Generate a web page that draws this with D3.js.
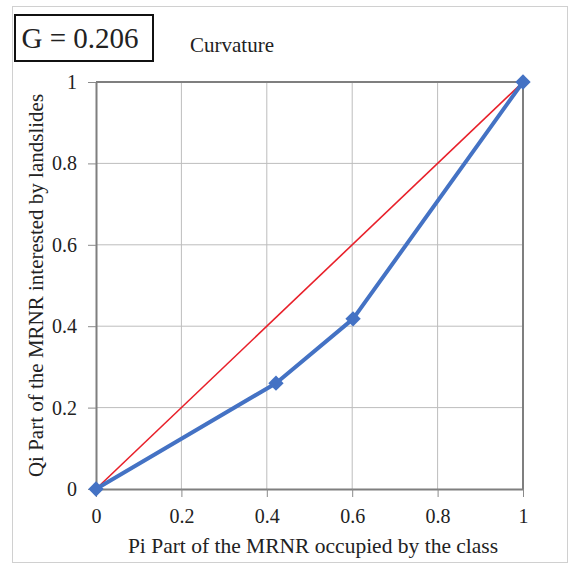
<!DOCTYPE html>
<html>
<head>
<meta charset="utf-8">
<script src="https://cdn.jsdelivr.net/npm/d3@7"></script>
<style>
  html, body { margin: 0; padding: 0; background: #fff; }
  svg text { font-family: "Liberation Serif", "Times New Roman", serif; fill: #222; }
</style>
</head>
<body>
<svg id="chart" width="570" height="566"></svg>
<script>
// Lorenz-type curve for the curvature factor
const pi = [0, 0.4215, 0.602, 1];
const qi = [0, 0.26, 0.418, 1];
const equality = [0, 1];
const tickValues = [0, 0.2, 0.4, 0.6, 0.8, 1];
const giniLabel = "G = 0.206";
const factorName = "Curvature";
const xTitle = "Pi Part of the MRNR occupied by the class";
const yTitle = "Qi Part of the MRNR interested by landslides";

const svg = d3.select("#chart");
const m = { left: 96, right: 523, top: 82, bottom: 489 };
const serif = '"Liberation Serif", "Times New Roman", serif';

const x = d3.scaleLinear().domain([0, 1]).range([m.left, m.right]);
const y = d3.scaleLinear().domain([0, 1]).range([m.bottom, m.top]);

// outer frame
svg.append("rect").attr("x", 12.5).attr("y", 6.5).attr("width", 555).attr("height", 556)
  .attr("fill", "none").attr("stroke", "#d0d0d0").attr("stroke-width", 1);

// gridlines
const grid = svg.append("g");
grid.selectAll(".gx").data(tickValues.slice(1, -1)).join("line")
  .attr("x1", d => x(d)).attr("x2", d => x(d)).attr("y1", m.top).attr("y2", m.bottom)
  .attr("stroke", "#bdbdbd").attr("stroke-width", 1);
grid.selectAll(".gy").data(tickValues.slice(1, -1)).join("line")
  .attr("y1", d => y(d)).attr("y2", d => y(d)).attr("x1", m.left).attr("x2", m.right)
  .attr("stroke", "#bdbdbd").attr("stroke-width", 1);

// axes
const fmt = d => d === 0 ? "0" : d === 1 ? "1" : d3.format(".1f")(d);
const xAxis = svg.append("g").attr("transform", `translate(0,${m.bottom})`)
  .call(d3.axisBottom(x).tickValues(tickValues).tickFormat(fmt).tickSize(8).tickSizeOuter(0));
const yAxis = svg.append("g").attr("transform", `translate(${m.left},0)`)
  .call(d3.axisLeft(y).tickValues(tickValues).tickFormat(fmt).tickSize(8).tickSizeOuter(0));
[xAxis, yAxis].forEach(a => {
  a.attr("font-family", null).attr("font-size", null);
  a.select(".domain").attr("stroke", "#7f7f7f").attr("stroke-width", 2);
  a.selectAll(".tick line").attr("stroke", "#8a8a8a").attr("stroke-width", 1);
  a.selectAll(".tick text").style("font-size", "20px").style("font-family", serif).attr("fill", "#222");
});
xAxis.selectAll(".tick text").attr("y", 34).attr("dy", 0);
yAxis.selectAll(".tick text").attr("x", -19);

// top and right frame of plot area
svg.append("line").attr("x1", m.left).attr("x2", m.right).attr("y1", m.top).attr("y2", m.top)
  .attr("stroke", "#7f7f7f").attr("stroke-width", 2);
svg.append("line").attr("x1", m.right).attr("x2", m.right).attr("y1", m.top).attr("y2", m.bottom)
  .attr("stroke", "#7f7f7f").attr("stroke-width", 2);

// equality line
svg.append("line")
  .attr("x1", x(equality[0])).attr("y1", y(equality[0]))
  .attr("x2", x(equality[1])).attr("y2", y(equality[1]))
  .attr("stroke", "#e8202a").attr("stroke-width", 1.6);

// curve
const pts = pi.map((p, i) => [p, qi[i]]);
svg.append("path").datum(pts)
  .attr("d", d3.line().x(d => x(d[0])).y(d => y(d[1])))
  .attr("fill", "none").attr("stroke", "#4472c4").attr("stroke-width", 4)
  .attr("stroke-linejoin", "round");
svg.selectAll(".mk").data(pts).join("path")
  .attr("transform", d => `translate(${x(d[0])},${y(d[1])})`)
  .attr("d", d3.symbol().type(d3.symbolDiamond2).size(150))
  .attr("fill", "#4472c4");

// Gini box
svg.append("rect").attr("x", 15).attr("y", 15).attr("width", 138).attr("height", 46)
  .attr("fill", "#fff").attr("stroke", "#111").attr("stroke-width", 2);
svg.append("text").attr("x", 80).attr("y", 48).attr("text-anchor", "middle")
  .style("font-size", "29px").attr("fill", "#111").text(giniLabel);

svg.append("text").attr("x", 232).attr("y", 52).attr("text-anchor", "middle")
  .style("font-size", "21px").text(factorName);

// axis titles
svg.append("text").attr("x", 313).attr("y", 553).attr("text-anchor", "middle")
  .style("font-size", "21.5px").text(xTitle);
svg.append("text").attr("transform", `translate(43,${(m.top + m.bottom) / 2}) rotate(-90)`)
  .attr("text-anchor", "middle").style("font-size", "21px").text(yTitle);
</script>
</body>
</html>
